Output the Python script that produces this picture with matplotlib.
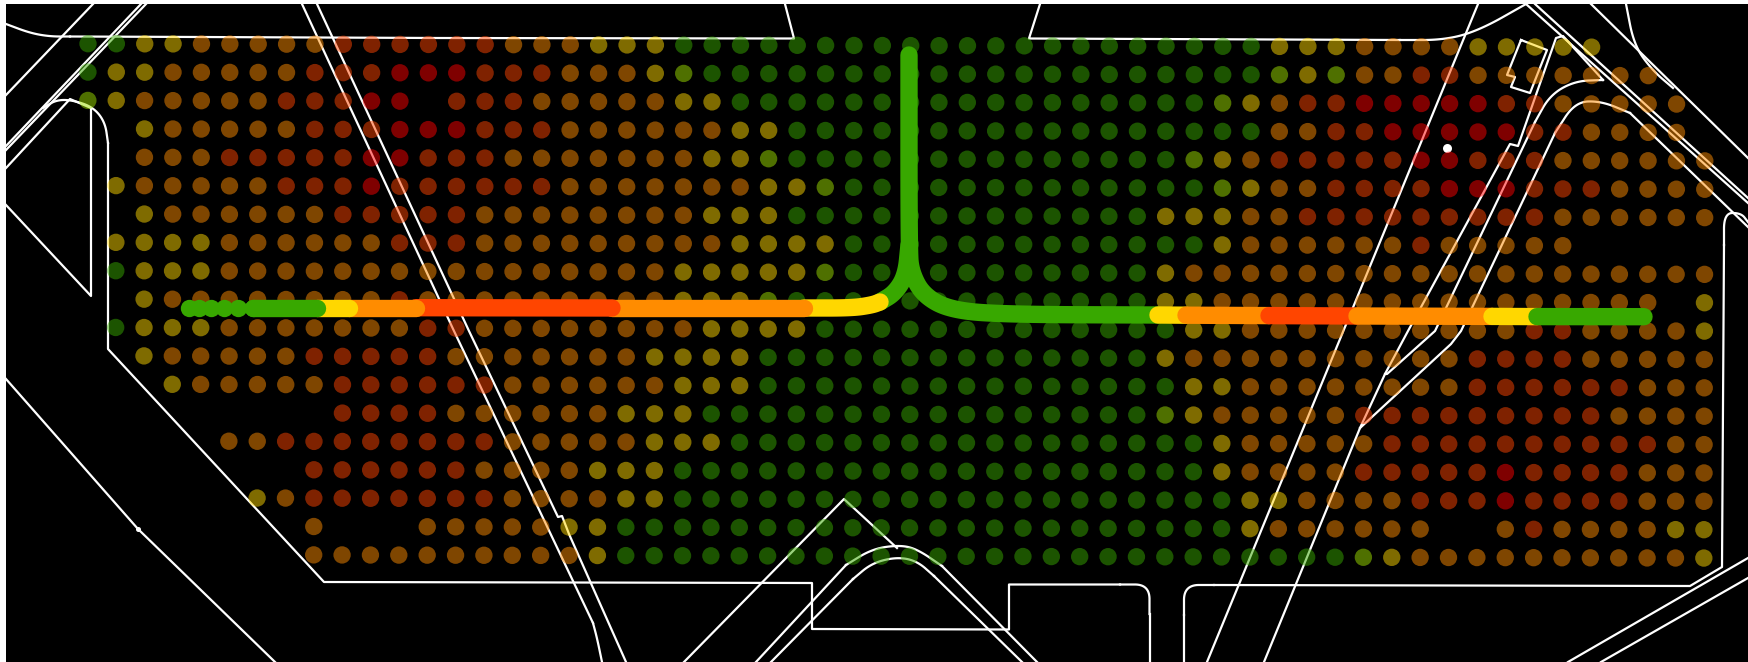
import matplotlib
matplotlib.use('Agg')
import matplotlib.pyplot as plt
from matplotlib.patches import Rectangle

# noise level per grid cell, one string per row, 58 columns, '.' = no sensor
# G green, L yellow green, Y yellow, O orange, R orange red, D red
grid_rows = [
    'GGYYOOOOORRRR' + 'RROOOYYYGGGGGGG' + 'GGGGGGGGGGGGGGY' + 'YYOOOOYYYYY....',
    'GYYOOOOORRRDD' + 'DRRROOOYLGGGGGG' + 'GGGGGGGGGGGGGGL' + 'YLOORROOOOOOO..',
    'LYOOOOORRRDD.' + 'RRROOOOOYYGGGGG' + 'GGGGGGGGGGGGLYO' + 'RRDDDDDRROOOOO.',
    '..YOOOOORRRDD' + 'DRRROOOOOOYYGGG' + 'GGGGGGGGGGGGGGO' + 'ORRDDDDDRROOOO.',
    '..OOORRRRRDDR' + 'RROOOOOOOYYLGGG' + 'GGGGGGGGGGGLYOR' + 'RRRRDDRRROOOOOO',
    '.YOOOOORRRDRR' + 'RRRROOOOOOOYYLG' + 'GGGGGGGGGGGGLYO' + 'ORRRRDDDRRROOOO',
    '..YOOOOOORRRR' + 'ROOOOOOOOYYYGGG' + 'GGGGGGGGGGYYYOO' + 'RRRRRRRRROOOOOO',
    '.YYYYOOOOOORR' + 'ROOOOOOOOOYYYYG' + 'GGGGGGGGGGGGYOO' + 'OOOOROOOOO.....',
    '.GYYYOOOOOOOO' + 'OOOOOOOOYYYYYLG' + 'GGGGGGGGGGYOOOO' + 'OOOOOOOOOOOOOOO',
    '..YOOOOOOOORO' + 'OOOOOOOOYYYLGGG' + 'GGGGGGGGGGYYOOO' + 'OOOOOOOOOOOOO.Y',
    '.GYYYOOOOOOOR' + 'ROOOOOOOOYYYYGG' + 'GGGGGGGGGGGYYOO' + 'OOOOOOOORROOOOY',
    '..YOOOOORRRRR' + 'OOOOOOOYYYYGGGG' + 'GGGGGGGGGGYOOOO' + 'OOOOOORRRROOOOO',
    '...YOOOOORRRR' + 'RROOOOOOYYYGGGG' + 'GGGGGGGGGGGYYOO' + 'OOOOOORRRRRROOO',
    '.........RRRR' + 'OOOOOOYYYGGGGGG' + 'GGGGGGGGGGLYOOO' + 'OORRRRRRRRROOOO',
    '.....OORRRRRR' + 'RROOOOOYYYGGGGG' + 'GGGGGGGGGGGGYOO' + 'OOORRRRRRRRRROO',
    '........RRRRR' + 'ROOOOYYYGGGGGGG' + 'GGGGGGGGGGGGYOO' + 'OORRRRRDRRRROOO',
    '......YORRRRR' + 'RROOOOYYGGGGGGG' + 'GGGGGGGGGGGGGYY' + 'OOOORRRDRRRROOO',
    '........O...O' + 'OOOOYYGGGGGGGGG' + 'GGGGGGGGGGGGGYO' + 'OOOOO..OROOOOYY',
    '........OOOOO' + 'OOOOOYGGGGGGGGG' + 'GGGGGGGGGGGGGGG' + 'GGLYOOOOOOOOOOY',
]
level_colors = {'G': '#38a800', 'L': '#9fe000', 'Y': '#ffd700',
                'O': '#ff8c00', 'R': '#ff4500', 'D': '#ff0000'}

# street outlines, image pixels
roads = [
    [(70, 36.5), (200, 37), (436, 38), (794, 38.5), (785, 4)],
    [(1040, 4), (1029, 38.5), (1400, 40)],
    [(93, 4), (6, 95)],
    [(146, 4), (6, 150)],
    [(141, 4), (6, 146)],
    [(6, 168), (70, 99), (91, 108), (91, 296), (6, 205)],
    [(108, 143), (108, 349), (324, 582), (812, 583), (812, 629), (1009, 629.5), (1009, 584.5), (1120, 584.5)],
    [(1149.5, 614), (1149.5, 662)],
    [(1184, 662), (1184, 615)],
    [(1214, 585), (1690, 586), (1722, 567), (1724, 245)],
    [(6, 379), (138, 529), (275, 662)],
    [(302, 4), (454, 331), (593, 623)],
    [(317, 4), (469, 331), (558, 517), (562, 516), (569, 534), (626, 662)],
    [(684, 662), (844, 499), (897, 548)],
    [(756, 662), (846, 565)],
    [(942, 566), (1037, 662)],
    [(771, 662), (853, 579)],
    [(934, 576), (1022, 662)],
    [(1478, 4), (1207, 662)],
    [(1264, 662), (1360, 428), (1385, 374), (1408, 331), (1510, 144), (1518, 146),
     (1556, 38), (1563, 36), (1603, 80)],
    [(1535, 122), (1435, 331), (1387, 374), (1385, 374)],
    [(1360, 428), (1451, 344), (1461, 331), (1555, 133)],
    [(1630, 113), (1748, 227)],
    [(1526, 4), (1748, 203)],
    [(1535, 4), (1748, 198)],
    [(1591, 4), (1748, 158)],
    [(1521, 40), (1547, 50), (1530, 93), (1511, 87), (1515, 77), (1507, 75), (1521, 40)],
    [(1568, 662), (1748, 558)],
    [(1601, 662), (1748, 578)],
]
# bends of the same streets, rounded off when drawn
curved_roads = [
    [(6, 24), (30, 33), (50, 36.5), (70, 36.5)],
    [(1400, 40), (1445, 40), (1480, 30), (1526, 4)],
    [(43, 108), (56, 100), (72, 100), (93, 107), (105, 122), (108, 143)],
    [(1120, 584.5), (1149.5, 584.5), (1149.5, 614)],
    [(1184, 615), (1184, 585), (1214, 585)],
    [(1724, 245), (1724, 213), (1741, 213), (1748, 222)],
    [(593, 623), (597, 638), (602, 662)],
    [(846, 565), (872, 549), (899, 545), (917, 549), (942, 566)],
    [(853, 579), (872, 563), (897, 557), (917, 561), (934, 576)],
    [(1603, 80), (1575, 81), (1550, 95), (1535, 122)],
    [(1555, 133), (1575, 102), (1601, 101), (1630, 113)],
    [(1626, 4), (1634, 45), (1652, 70), (1673, 88)],
]
road_dots = [(138, 529, 5), (1447, 148, 9)]

# traffic route, one (colour, points) per stretch
west_arm = [
    ('#38a800', [(253, 307.7), (317, 307.7)]),
    ('#ffd700', [(317, 307.7), (349, 307.7)]),
    ('#ff8c00', [(349, 307.7), (416, 307.7)]),
    ('#ff4500', [(416, 307.7), (612, 308)]),
    ('#ff8c00', [(612, 308), (804, 308)]),
    ('#ffd700', [(804, 308), (852, 308), (872, 305), (880, 302)]),
]
west_start_x = [189, 199, 211, 224, 238, 253]
west_start_y = [307.7, 307.7, 307.7, 307.7, 307.7, 307.7]
junction = [(909, 245), (906, 275), (895, 293), (880, 302)]
north_arm = [(909, 55), (909, 250), (911, 272), (923, 295), (950, 310), (1005, 314.5), (1158, 315)]
east_arm = [
    ('#ffd700', [(1158, 315), (1186, 315.2)]),
    ('#ff8c00', [(1186, 315.2), (1269, 315.6)]),
    ('#ff4500', [(1269, 315.6), (1357, 316)]),
    ('#ff8c00', [(1357, 316), (1492, 316.4)]),
    ('#ffd700', [(1492, 316.4), (1537, 316.6)]),
    ('#38a800', [(1537, 316.6), (1644, 316.7)]),
]


def grid_points():
    xs, ys, cs = [], [], []
    for r, row in enumerate(grid_rows):
        for c, level in enumerate(row):
            if level == '.':
                continue
            # the sensor grid is turned a little against the image
            xs.append(88 + 28.37 * c - 0.07 * r)
            ys.append(43.7 + 28.37 * r + 0.065 * c)
            cs.append(level_colors[level])
    return xs, ys, cs


def round_off(points, times=4):
    # corner cutting, keeps both ends
    for _ in range(times):
        new = [points[0]]
        for (x0, y0), (x1, y1) in zip(points[:-1], points[1:]):
            new.append((0.75 * x0 + 0.25 * x1, 0.75 * y0 + 0.25 * y1))
            new.append((0.25 * x0 + 0.75 * x1, 0.25 * y0 + 0.75 * y1))
        new.append(points[-1])
        points = new
    return points


def route(ax, color, points, z):
    ax.plot([p[0] for p in points], [p[1] for p in points], color=color, lw=12.5,
            solid_capstyle='round', solid_joinstyle='round', zorder=z)


fig = plt.figure(figsize=(17.48, 6.62), dpi=100, facecolor='white')
ax = fig.add_axes([0, 0, 1, 1])
ax.set_xlim(0, 1748)
ax.set_ylim(662, 0)
ax.axis('off')
ax.add_patch(Rectangle((6, 4), 1742, 658, color='black', lw=0, zorder=0))

for road in roads + [round_off(c) for c in curved_roads]:
    ax.plot([p[0] for p in road], [p[1] for p in road], color='white', lw=1.6,
            solid_joinstyle='round', zorder=1)
for x, y, d in road_dots:
    ax.plot(x, y, 'o', color='white', ms=d * 0.72, mew=0, zorder=1)

xs, ys, cs = grid_points()
ax.scatter(xs, ys, s=156, c=cs, alpha=0.5, linewidths=0, zorder=2)

route(ax, '#38a800', round_off(north_arm), 3)
route(ax, '#38a800', round_off(junction), 3)
# west stretches overlap towards the east, east stretches towards the west
for i, (color, points) in enumerate(reversed(west_arm)):
    route(ax, color, round_off(points), 4 + i * 0.1)
ax.plot(west_start_x, west_start_y, 'o', color='#38a800', ms=12.5, mew=0, ls='none', zorder=5)
for i, (color, points) in enumerate(east_arm):
    route(ax, color, points, 4 + i * 0.1)

fig.savefig('out.png', dpi=100, facecolor='white')
